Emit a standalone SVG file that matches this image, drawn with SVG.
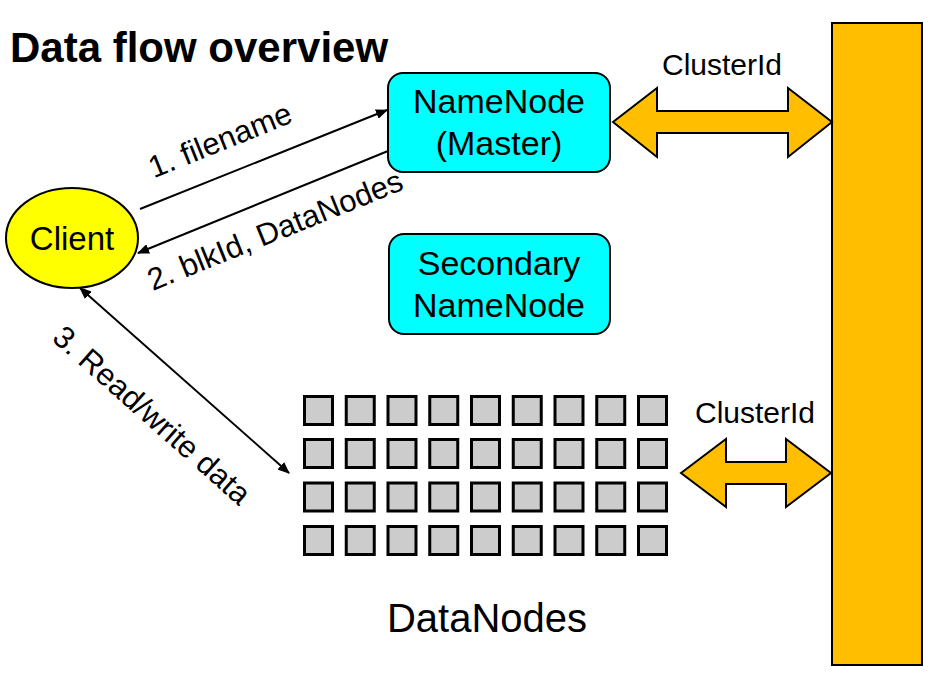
<svg xmlns="http://www.w3.org/2000/svg" width="932" height="694" viewBox="0 0 932 694">
<defs>
<style>
.t{font-family:"Liberation Sans",Arial,Helvetica,sans-serif;fill:#000;}
.box{fill:#00FFFF;stroke:#000;stroke-width:2;}
.sq{fill:#CCCCCC;stroke:#000;stroke-width:3;}
.big{fill:#FFBF00;stroke:#000;stroke-width:2;stroke-linejoin:miter;}
.ln{stroke:#000;stroke-width:2;fill:none;}
</style>
<marker id="ah" viewBox="0 0 12 10" refX="11" refY="5" markerWidth="12" markerHeight="10" markerUnits="userSpaceOnUse" orient="auto-start-reverse">
<path d="M0,0 L12,5 L0,10 Z" fill="#000"/>
</marker>
</defs>
<rect width="932" height="694" fill="#fff"/>
<text class="t" x="10" y="62" font-size="42" font-weight="bold">Data flow overview</text>

<g id="cluster">
<rect x="832" y="23" width="90" height="642" fill="#FFBF00" stroke="#000" stroke-width="2"/>
</g>

<g id="client">
<ellipse cx="72" cy="238" rx="66" ry="50" fill="#FFFF00" stroke="#000" stroke-width="2"/>
<text class="t" x="72" y="250" font-size="33" text-anchor="middle">Client</text>
</g>

<g id="namenode">
<rect class="box" x="388" y="73" width="222" height="99" rx="15"/>
<text class="t" x="499" y="113" font-size="34" text-anchor="middle">NameNode</text>
<text class="t" x="499" y="155" font-size="34" text-anchor="middle">(Master)</text>
</g>

<g id="secondary">
<rect class="box" x="389" y="234" width="221" height="100" rx="15"/>
<text class="t" x="499" y="275" font-size="34" text-anchor="middle">Secondary</text>
<text class="t" x="499" y="317" font-size="34" text-anchor="middle">NameNode</text>
</g>

<g id="datanodes">
<g>
<rect class="sq" x="304.5" y="396.5" width="28" height="28"/><rect class="sq" x="346.25" y="396.5" width="28" height="28"/><rect class="sq" x="388" y="396.5" width="28" height="28"/><rect class="sq" x="429.75" y="396.5" width="28" height="28"/><rect class="sq" x="471.5" y="396.5" width="28" height="28"/><rect class="sq" x="513.25" y="396.5" width="28" height="28"/><rect class="sq" x="555" y="396.5" width="28" height="28"/><rect class="sq" x="596.75" y="396.5" width="28" height="28"/><rect class="sq" x="638.5" y="396.5" width="28" height="28"/>
</g>
<g>
<rect class="sq" x="304.5" y="439.5" width="28" height="28"/><rect class="sq" x="346.25" y="439.5" width="28" height="28"/><rect class="sq" x="388" y="439.5" width="28" height="28"/><rect class="sq" x="429.75" y="439.5" width="28" height="28"/><rect class="sq" x="471.5" y="439.5" width="28" height="28"/><rect class="sq" x="513.25" y="439.5" width="28" height="28"/><rect class="sq" x="555" y="439.5" width="28" height="28"/><rect class="sq" x="596.75" y="439.5" width="28" height="28"/><rect class="sq" x="638.5" y="439.5" width="28" height="28"/>
</g>
<g>
<rect class="sq" x="304.5" y="483" width="28" height="28"/><rect class="sq" x="346.25" y="483" width="28" height="28"/><rect class="sq" x="388" y="483" width="28" height="28"/><rect class="sq" x="429.75" y="483" width="28" height="28"/><rect class="sq" x="471.5" y="483" width="28" height="28"/><rect class="sq" x="513.25" y="483" width="28" height="28"/><rect class="sq" x="555" y="483" width="28" height="28"/><rect class="sq" x="596.75" y="483" width="28" height="28"/><rect class="sq" x="638.5" y="483" width="28" height="28"/>
</g>
<g>
<rect class="sq" x="304.5" y="526.5" width="28" height="28"/><rect class="sq" x="346.25" y="526.5" width="28" height="28"/><rect class="sq" x="388" y="526.5" width="28" height="28"/><rect class="sq" x="429.75" y="526.5" width="28" height="28"/><rect class="sq" x="471.5" y="526.5" width="28" height="28"/><rect class="sq" x="513.25" y="526.5" width="28" height="28"/><rect class="sq" x="555" y="526.5" width="28" height="28"/><rect class="sq" x="596.75" y="526.5" width="28" height="28"/><rect class="sq" x="638.5" y="526.5" width="28" height="28"/>
</g>
<text class="t" x="487" y="632" font-size="40" text-anchor="middle">DataNodes</text>
</g>

<g id="connectors">
<line class="ln" x1="140" y1="209" x2="387" y2="110" marker-end="url(#ah)"/>
<line class="ln" x1="388" y1="151" x2="138" y2="253" marker-end="url(#ah)"/>
<line class="ln" x1="80" y1="288" x2="289" y2="473" marker-start="url(#ah)" marker-end="url(#ah)"/>
<text class="t" font-size="31" text-anchor="middle" transform="translate(224,150) rotate(-22)">1. filename</text>
<text class="t" font-size="31" text-anchor="middle" transform="translate(279,240) rotate(-22)">2. blkId, DataNodes</text>
<text class="t" font-size="31" text-anchor="middle" transform="translate(145,423) rotate(41.5)">3. Read/write data</text>
<polygon class="big" points="613,122 657,88 657,111 788,111 788,88 832,122 788,157 788,133 657,133 657,157"/>
<text class="t" x="722" y="75" font-size="30" text-anchor="middle">ClusterId</text>
<polygon class="big" points="681,473 726,439 726,462 786,462 786,439 831,473 786,507 786,484 726,484 726,507"/>
<text class="t" x="755" y="423" font-size="30" text-anchor="middle">ClusterId</text>
</g>
</svg>
